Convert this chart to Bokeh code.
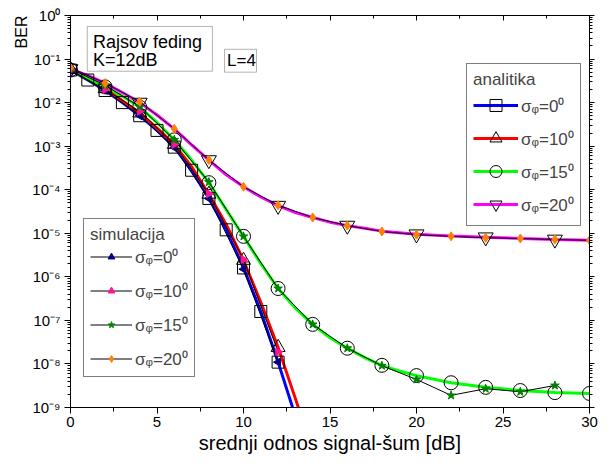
import math
from bokeh.plotting import figure
from bokeh.models import (Range1d, FixedTicker, LinearAxis, LogAxis, CustomJSTickFormatter,
                          Legend, LegendItem, Label, BoxAnnotation, Title)
from bokeh.embed import file_html
from bokeh.resources import INLINE

FONT = "Liberation Sans"

# ---------------- data (BER) ----------------
# analytic curves
x_an0 = list(range(0, 14))
ber_an0 = [5.6e-2, 3.3e-2, 1.9e-2, 1.0e-2, 5.0e-3, 2.3e-3, 9.5e-4, 2.8e-4, 6.3e-5,
           1.2e-5, 1.6e-6, 1.6e-7, 1.1e-8, 6.3e-10]
x_an10 = list(range(0, 15))
ber_an10 = [5.8e-2, 3.5e-2, 2.1e-2, 1.1e-2, 5.8e-3, 2.6e-3, 1.1e-3, 3.4e-4, 7.9e-5,
            1.6e-5, 2.4e-6, 2.6e-7, 2.4e-8, 1.6e-9, 1.0e-10]
x_an15 = list(range(0, 21)) + [22, 24, 26, 28, 30]
ber_an15 = [5.6e-2, 3.5e-2, 2.3e-2, 1.4e-2, 7.9e-3, 3.5e-3, 1.4e-3, 4.8e-4, 1.45e-4,
            3.5e-5, 8.5e-6, 2.0e-6, 5.4e-7, 1.9e-7, 8.1e-8, 4.0e-8, 2.3e-8, 1.4e-8,
            9.3e-9, 6.9e-9, 5.4e-9, 3.7e-9, 2.9e-9, 2.45e-9, 2.2e-9, 2.1e-9]
x_an20 = list(range(0, 19)) + [20, 22, 24, 26, 28, 30]
ber_an20 = [5.9e-2, 4.2e-2, 2.8e-2, 1.7e-2, 1.0e-2, 5.2e-3, 2.5e-3, 1.07e-3, 4.8e-4,
            2.2e-4, 1.17e-4, 6.8e-5, 4.3e-5, 3.0e-5, 2.3e-5, 1.8e-5, 1.5e-5, 1.3e-5,
            1.12e-5, 9.5e-6, 8.7e-6, 8.1e-6, 7.6e-6, 7.2e-6, 6.9e-6]

# simulation points
x_sim0 = [0, 2, 4, 6, 8, 10, 12]
ber_sim0 = [5.4e-2, 1.9e-2, 5.0e-3, 9.3e-4, 6.3e-5, 1.5e-6, 1.1e-8]
x_sim10 = [0, 2, 4, 6, 8, 10, 12]
ber_sim10 = [5.6e-2, 2.0e-2, 6.3e-3, 1.1e-3, 8.1e-5, 2.5e-6, 1.9e-8]
x_sim15 = [0, 2, 4, 6, 8, 10, 12, 14, 16, 18, 20, 22, 24, 26, 28]
ber_sim15 = [6.0e-2, 2.5e-2, 8.1e-3, 1.4e-3, 1.5e-4, 8.5e-6, 5.4e-7, 8.1e-8, 2.3e-8,
             9.1e-9, 4.4e-9, 1.9e-9, 2.7e-9, 2.3e-9, 3.2e-9]
x_sim20 = [0, 2, 4, 6, 8, 10, 12, 14, 16, 18, 20, 22, 24, 26, 28, 30]
ber_sim20 = [6.3e-2, 2.8e-2, 1.05e-2, 2.5e-3, 4.8e-4, 1.17e-4, 4.4e-5, 2.3e-5, 1.5e-5,
             1.1e-5, 9.3e-6, 8.5e-6, 7.9e-6, 7.6e-6, 7.2e-6, 6.9e-6]

series_labels = ["σᵩ=0⁰", "σᵩ=10⁰", "σᵩ=15⁰", "σᵩ=20⁰"]
x_ticks = [0, 5, 10, 15, 20, 25, 30]
y_ticks = [1e0, 1e-1, 1e-2, 1e-3, 1e-4, 1e-5, 1e-6, 1e-7, 1e-8, 1e-9]

# marker subsets of the analytic curves
sq_x, sq_y = x_an0[:13], ber_an0[:13]
tu_x, tu_y = x_an10[0:13:2], ber_an10[0:13:2]
ci = [(x, b) for x, b in zip(x_an15, ber_an15) if x % 2 == 0]
ci_x, ci_y = [c[0] for c in ci], [c[1] for c in ci]
td = [(x, b) for x, b in zip(x_an20, ber_an20) if x % 4 == 0]
td_x, td_y = [c[0] for c in td], [c[1] for c in td]

# ---------------- figure ----------------
p = figure(width=598, height=458, x_range=Range1d(0, 30), y_range=Range1d(1e-9, 1),
           y_axis_type="log", output_backend="svg", toolbar_location=None,
           min_border_left=70, min_border_right=9, min_border_top=15, min_border_bottom=51)
p.grid.visible = False
p.outline_line_color = "black"
p.outline_line_width = 1

x_minor = [2.5, 7.5, 12.5, 17.5, 22.5, 27.5]
y_minor = [m * 10.0 ** e for e in range(-9, 0) for m in range(2, 10)]

xt = FixedTicker(ticks=x_ticks, minor_ticks=x_minor)
yt = FixedTicker(ticks=y_ticks, minor_ticks=y_minor)

sup_fmt = CustomJSTickFormatter(code=r"""
const e = Math.round(Math.log10(tick));
const m = {"-": "\u207b", "0": "\u2070", "1": "\u00b9", "2": "\u00b2", "3": "\u00b3",
           "4": "\u2074", "5": "\u2075", "6": "\u2076", "7": "\u2077", "8": "\u2078", "9": "\u2079"};
return "10" + String(e).split("").map(c => m[c]).join("");
""")

xa = p.xaxis[0]
xa.ticker = xt
xa.major_tick_out = 6
xa.major_tick_in = 0
xa.minor_tick_out = 4
xa.minor_tick_in = 0
xa.major_label_standoff = 3
xa.major_label_text_font = FONT
xa.major_label_text_font_size = "15px"
xa.major_label_text_color = "black"
xa.axis_label = "srednji odnos signal-šum [dB]"
xa.axis_label_text_font = FONT
xa.axis_label_text_font_size = "20px"
xa.axis_label_text_font_style = "normal"
xa.axis_label_text_color = "black"
xa.axis_label_standoff = 2
xa.axis_line_color = "black"

ya = p.yaxis[0]
ya.ticker = yt
ya.formatter = sup_fmt
ya.major_tick_out = 6
ya.major_tick_in = 0
ya.minor_tick_out = 3
ya.minor_tick_in = 0
ya.major_label_standoff = 4
ya.major_label_text_font = FONT
ya.major_label_text_font_size = "15px"
ya.major_label_text_color = "black"
ya.axis_line_color = "black"

top = LinearAxis(ticker=xt, formatter=CustomJSTickFormatter(code="return ''"),
                 major_tick_in=5, major_tick_out=0, minor_tick_in=3, minor_tick_out=0,
                 major_label_standoff=0, major_label_text_font_size="1px")
p.add_layout(top, "above")
right = LogAxis(ticker=yt, formatter=CustomJSTickFormatter(code="return ''"),
                major_tick_out=5, major_tick_in=0, minor_tick_out=3, minor_tick_in=0,
                major_label_standoff=0, major_label_text_font_size="1px")
p.add_layout(right, "right")

# y-axis title near the top, like the reference
p.add_layout(Title(text="BER", align="right", text_font=FONT, text_font_size="16px",
                   text_font_style="normal", text_color="black", standoff=0), "left")

# analytic lines
an_colors = ["#0000ff", "#ff0000", "#00ff00", "#ff00ff"]
la0 = p.line(x_an0, ber_an0, line_color=an_colors[0], line_width=3)
la10 = p.line(x_an10, ber_an10, line_color=an_colors[1], line_width=3)
la15 = p.line(x_an15, ber_an15, line_color=an_colors[2], line_width=3)
la20 = p.line(x_an20, ber_an20, line_color=an_colors[3], line_width=3)

# simulation lines
ls0 = p.line(x_sim0, ber_sim0, line_color="black", line_width=1)
ls10 = p.line(x_sim10, ber_sim10, line_color="black", line_width=1)
ls15 = p.line(x_sim15, ber_sim15, line_color="black", line_width=1)
ls20 = p.line(x_sim20, ber_sim20, line_color="black", line_width=1)

# analytic markers (hollow)
ma0 = p.scatter(sq_x, sq_y, marker="square", size=12, fill_color=None, line_color="black", line_width=1)
ma10 = p.scatter(tu_x, tu_y, marker="triangle", size=14, fill_color=None, line_color="black", line_width=1)
ma15 = p.scatter(ci_x, ci_y, marker="circle", size=14, fill_color=None, line_color="black", line_width=1)
ma20 = p.scatter(td_x, td_y, marker="inverted_triangle", size=15, fill_color=None, line_color="black", line_width=1)

# simulation markers
ms0 = p.scatter(x_sim0, ber_sim0, marker="triangle", angle=math.pi / 2, size=8,
                fill_color="#000080", line_color="#000080")
ms10 = p.scatter(x_sim10, ber_sim10, marker="triangle", angle=-math.pi / 2, size=8,
                 fill_color="#ff1493", line_color="#ff1493")
ms15 = p.scatter(x_sim15, ber_sim15, marker="star", size=9,
                 fill_color="#008000", line_color="#008000")
ms20 = p.scatter(x_sim20, ber_sim20, marker="diamond", size=9,
                 fill_color="#ff8000", line_color="#ff8000")

leg_a = Legend(items=[LegendItem(label=series_labels[i], renderers=[l, m])
                      for i, (l, m) in enumerate([(la0, ma0), (la10, ma10), (la15, ma15), (la20, ma20)])],
               location=(396, 181), title="analitika",
               title_text_font=FONT, title_text_font_size="17px", title_text_font_style="normal",
               title_standoff=0, label_text_font=FONT, label_text_font_size="17px",
               glyph_width=45, glyph_height=30, label_height=30, spacing=3, label_standoff=3,
               padding=6, margin=0, border_line_color="black", border_line_width=1,
               background_fill_color="white", background_fill_alpha=1)
p.add_layout(leg_a)

leg_s = Legend(items=[LegendItem(label=series_labels[i], renderers=[l, m])
                      for i, (l, m) in enumerate([(ls0, ms0), (ls10, ms10), (ls15, ms15), (ls20, ms20)])],
               location=(13, 30), title="simulacija",
               title_text_font=FONT, title_text_font_size="17px", title_text_font_style="normal",
               title_standoff=0, label_text_font=FONT, label_text_font_size="17px",
               glyph_width=42, glyph_height=17, label_height=17, spacing=11, label_standoff=3,
               padding=6, margin=0, border_line_color="black", border_line_width=1,
               background_fill_color="white", background_fill_alpha=1)
p.add_layout(leg_s)

# text boxes
p.add_layout(BoxAnnotation(left=0.97, right=8.2, bottom=0.0526, top=0.56,
                           fill_color="white", fill_alpha=1, line_color="black", line_width=1))
p.add_layout(Label(x=1.3, y=0.242, text="Rajsov feding", text_font=FONT, text_font_size="18px",
                   text_baseline="middle", text_align="left", text_color="black"))
p.add_layout(Label(x=1.3, y=0.094, text="K=12dB", text_font=FONT, text_font_size="18px",
                   text_baseline="middle", text_align="left", text_color="black"))
p.add_layout(BoxAnnotation(left=8.9, right=10.75, bottom=0.050, top=0.1675,
                           fill_color="white", fill_alpha=1, line_color="black", line_width=1))
p.add_layout(Label(x=9.05, y=0.0912, text="L=4", text_font=FONT, text_font_size="17px",
                   text_baseline="middle", text_align="left", text_color="black"))

open("out.html", "w").write(file_html(p, INLINE))
